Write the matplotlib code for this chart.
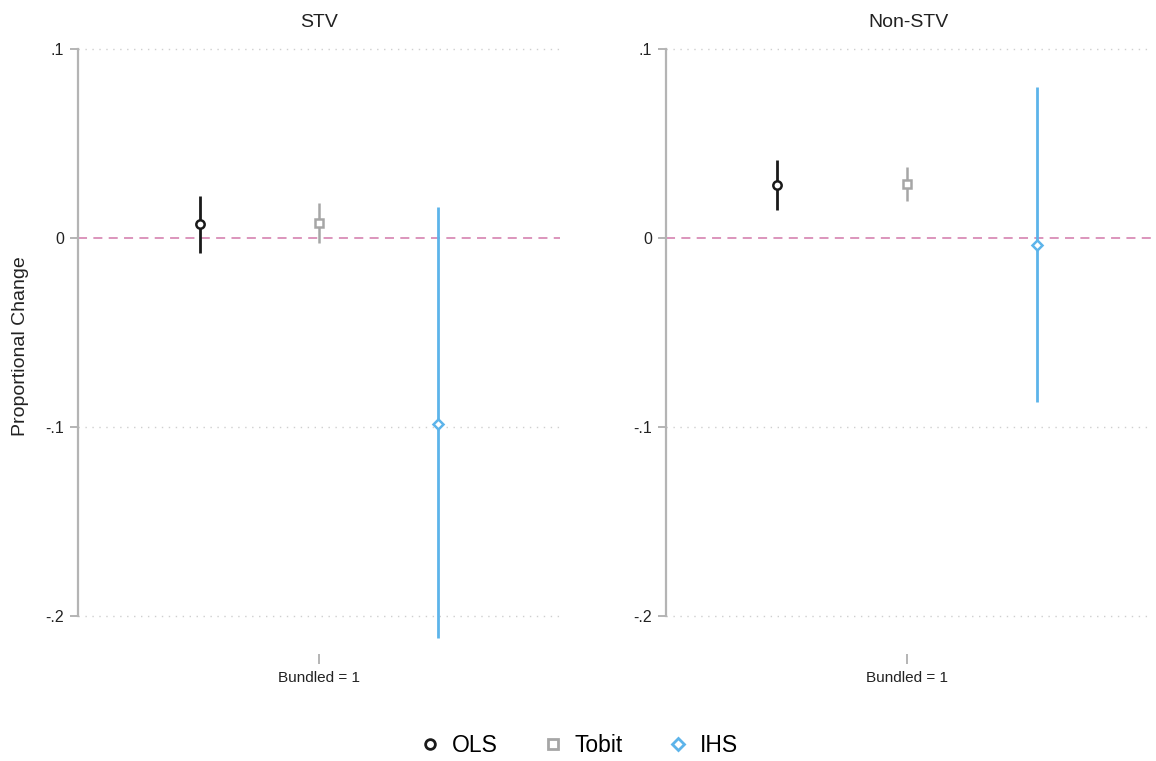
import numpy as np
import matplotlib.pyplot as plt
from matplotlib.lines import Line2D

plt.rcParams["font.family"] = ["Liberation Sans", "DejaVu Sans"]

# coefficient estimates and 95% CIs for Bundled = 1
panels = ["STV", "Non-STV"]
models = ["OLS", "Tobit", "IHS"]
coef = [[0.0074, 0.0079, -0.0984],
        [0.0280, 0.0286, -0.0037]]
ci_lo = [[-0.0079, -0.0026, -0.2116],
         [0.0148, 0.0196, -0.0868]]
ci_hi = [[0.0222, 0.0185, 0.0164],
         [0.0413, 0.0376, 0.0799]]
yticks = [0.1, 0.0, -0.1, -0.2]
ytick_labels = [".1", "0", "-.1", "-.2"]

colors = ["#1a1a1a", "#a6a6a6", "#5db4ea"]
markers = ["o", "s", "D"]
msizes = [6, 6, 5.5]
lwidths = [2.0, 1.8, 2.0]
offsets = [-1, 0, 1]
xlims = [(-2.017, 2.017), (-1.86, 1.89)]

fig = plt.figure(figsize=(11.56, 7.61), dpi=100)
W, H = 1156, 761
boxes = [(78, 560), (666, 1152)]
top_px, bot_px = 38, 654

for p, (x0, x1) in enumerate(boxes):
    ax = fig.add_axes([x0 / W, 1 - bot_px / H, (x1 - x0) / W, (bot_px - top_px) / H])
    for m in range(3):
        x = offsets[m]
        ax.plot([x, x], [ci_lo[p][m], ci_hi[p][m]], color=colors[m],
                lw=lwidths[m], solid_capstyle="butt", zorder=3)
        ax.plot(x, coef[p][m], marker=markers[m], ms=msizes[m], mfc="white",
                mec=colors[m], mew=1.8, zorder=4, ls="none")
    ax.axhline(0, color="#d98cb6", lw=1.3, ls=(0, (5, 3.5)), zorder=2)
    for yv in yticks:
        if yv != 0:
            ax.axhline(yv, color="#cfcfcf", lw=1.0, ls=(0, (1, 4)), zorder=1)
    ax.set_xlim(*xlims[p])
    ax.set_ylim(-0.22, 0.106)
    ax.set_yticks(yticks)
    ax.set_yticklabels(ytick_labels, fontsize=11.5, color="#222222")
    ax.set_xticks([0])
    ax.set_xticklabels(["Bundled = 1"], fontsize=11, color="#222222")
    for s in ["top", "right", "bottom"]:
        ax.spines[s].set_visible(False)
    ax.spines["left"].set_bounds(-0.2, 0.1)
    ax.spines["left"].set_color("#b4b4b4")
    ax.spines["left"].set_linewidth(1.6)
    ax.tick_params(axis="y", length=6, width=1.4, color="#b4b4b4", pad=4)
    ax.tick_params(axis="x", length=7, width=1.4, color="#b4b4b4", pad=5)
    ax.set_title(panels[p], fontsize=14, pad=8, color="#222222")
    if p == 0:
        ax.set_ylabel("Proportional Change", fontsize=14, labelpad=12, color="#222222")

handles = [Line2D([], [], marker=markers[m], ls="none", ms=msizes[m] + 1, mfc="white",
                  mec=colors[m], mew=2.0, label=models[m]) for m in range(3)]
fig.legend(handles=handles, loc="center", bbox_to_anchor=(0.5, 1 - 746 / H),
           ncol=3, frameon=False, fontsize=16.5, handletextpad=0.45, columnspacing=1.9,
           handlelength=1.0)

fig.savefig("out.png", dpi=100, facecolor="white")
